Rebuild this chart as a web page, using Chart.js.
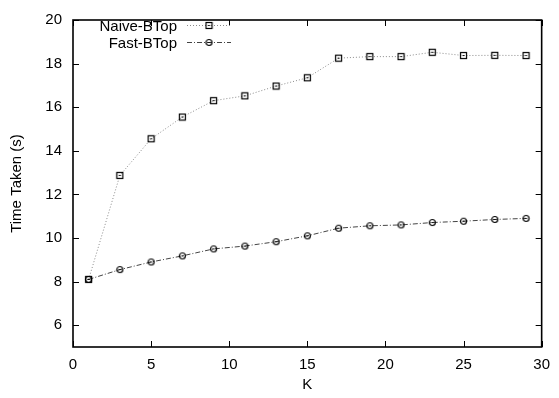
<!DOCTYPE html>
<html>
<head>
<meta charset="utf-8">
<script src="https://cdn.jsdelivr.net/npm/chart.js@4.4.1/dist/chart.umd.min.js"></script>
<style>
  html, body { margin: 0; padding: 0; background: #fff; }
  #wrap { width: 559px; height: 398px; }
</style>
</head>
<body>
<div id="wrap"><canvas id="chart" width="559" height="398"></canvas></div>
<script>
const kValues = [1, 3, 5, 7, 9, 11, 13, 15, 17, 19, 21, 23, 25, 27, 29];
const naiveTimes = [8.1, 12.87, 14.55, 15.55, 16.3, 16.52, 16.97, 17.35, 18.25, 18.32, 18.32, 18.52, 18.37, 18.38, 18.37];
const fastTimes = [8.1, 8.55, 8.9, 9.18, 9.5, 9.63, 9.83, 10.1, 10.45, 10.56, 10.6, 10.71, 10.77, 10.85, 10.9];
const seriesNames = ["Naive-BTop", "Fast-BTop"];

const FONT = "'Liberation Sans', Arial, Helvetica, sans-serif";

// gnuplot-ish markers: box with a dot, circle with a dot
const makeMarker = (kind) => {
    const c = document.createElement("canvas");
    c.width = 9; c.height = 9;
    const g = c.getContext("2d");
    g.strokeStyle = "#000";
    g.lineWidth = 1.2;
    if (kind === "box") {
        g.strokeRect(1.5, 1.5, 6, 6);
    } else {
        g.beginPath();
        g.arc(4.5, 4.5, 3, 0, Math.PI * 2);
        g.stroke();
    }
    g.fillStyle = "#000";
    g.fillRect(3.5, 4, 2, 1);
    return c;
};
const boxMarker = makeMarker("box");
const circleMarker = makeMarker("circle");

const lineStyles = [
    { color: "#8a8a8a", dash: [1, 2], marker: boxMarker },
    { color: "#444", dash: [5, 2, 1, 2], marker: circleMarker },
];

// frame, inward ticks on all sides, and a gnuplot style key
const framePlugin = {
    id: "frame",
    afterDraw(chart) {
        const ctx = chart.ctx;
        const a = chart.chartArea;
        const xs = chart.scales.x, ys = chart.scales.y;
        ctx.save();
        ctx.strokeStyle = "#000";
        ctx.lineWidth = 1.6;
        ctx.setLineDash([]);
        ctx.strokeRect(a.left, a.top, a.right - a.left, a.bottom - a.top);
        ctx.lineWidth = 1;
        ctx.beginPath();
        xs.ticks.forEach(t => {
            const px = Math.round(xs.getPixelForValue(t.value)) + 0.5;
            ctx.moveTo(px, a.bottom); ctx.lineTo(px, a.bottom - 6);
            ctx.moveTo(px, a.top); ctx.lineTo(px, a.top + 6);
        });
        ys.ticks.forEach(t => {
            const py = Math.round(ys.getPixelForValue(t.value)) + 0.5;
            ctx.moveTo(a.left, py); ctx.lineTo(a.left + 6, py);
            ctx.moveTo(a.right, py); ctx.lineTo(a.right - 6, py);
        });
        ctx.stroke();

        // key
        ctx.font = "15px " + FONT;
        ctx.textAlign = "right";
        ctx.textBaseline = "middle";
        ctx.fillStyle = "#000";
        seriesNames.forEach((name, i) => {
            const y = 25 + i * 17;
            ctx.fillText(name, 177, y + 1.5);
            const st = lineStyles[i];
            ctx.strokeStyle = st.color;
            ctx.setLineDash(st.dash);
            ctx.beginPath();
            ctx.moveTo(187, y + 0.5); ctx.lineTo(231, y + 0.5);
            ctx.stroke();
            ctx.setLineDash([]);
            ctx.drawImage(st.marker, 209 - 4.5, y - 4);
        });
        ctx.restore();
    }
};

const datasets = [naiveTimes, fastTimes].map((vals, i) => ({
    label: seriesNames[i],
    data: kValues.map((k, j) => ({ x: k, y: vals[j] })),
    borderColor: lineStyles[i].color,
    borderWidth: 1,
    borderDash: lineStyles[i].dash,
    pointStyle: lineStyles[i].marker,
    pointRadius: 3,
    tension: 0,
    fill: false,
}));

new Chart(document.getElementById("chart"), {
    type: "line",
    data: { datasets },
    plugins: [framePlugin],
    options: {
        responsive: false,
        animation: false,
        layout: { padding: { top: 13, right: 11, left: 8, bottom: 4 } },
        plugins: {
            legend: { display: false },
            tooltip: { enabled: false },
        },
        scales: {
            x: {
                type: "linear",
                min: 0, max: 30,
                grid: { display: false, drawTicks: false },
                border: { display: false },
                ticks: {
                    stepSize: 5,
                    color: "#000",
                    font: { family: FONT, size: 15 },
                    padding: 9,
                    maxRotation: 0,
                },
                title: {
                    display: true, text: "K", color: "#000",
                    font: { family: FONT, size: 15 }, padding: { top: 2, bottom: 0 },
                },
                afterFit(scale) { scale.height = 47; },
            },
            y: {
                min: 5, max: 20,
                grid: { display: false, drawTicks: false },
                border: { display: false },
                ticks: {
                    stepSize: 2,
                    color: "#000",
                    font: { family: FONT, size: 15 },
                    padding: 11,
                },
                afterBuildTicks(scale) {
                    scale.ticks = [6, 8, 10, 12, 14, 16, 18, 20].map(v => ({ value: v }));
                },
                title: {
                    display: true, text: "Time Taken (s)", color: "#000",
                    font: { family: FONT, size: 15 }, padding: { top: 0, bottom: 0 },
                },
                afterFit(scale) { scale.width = 65; },
            },
        },
    },
});
</script>
</body>
</html>
